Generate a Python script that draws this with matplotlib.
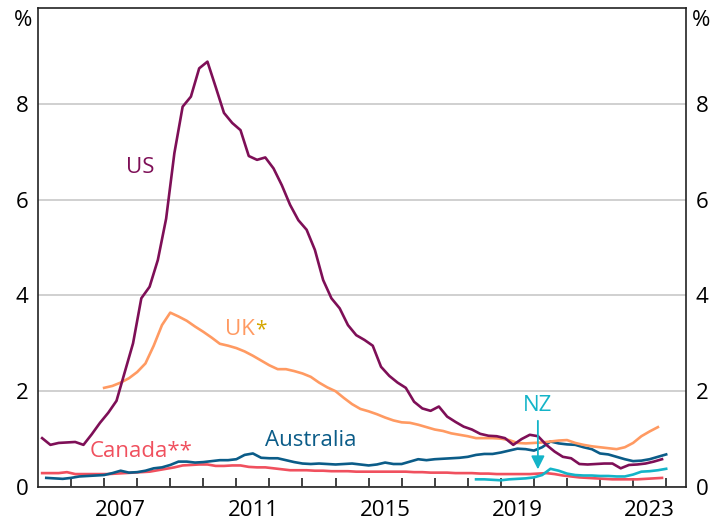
import numpy as np
import matplotlib
matplotlib.use("Agg")
import matplotlib.pyplot as plt

plt.rcParams['font.family'] = ['Open Sans', 'DejaVu Sans']

# quarterly dates (decimal years)
us_x = np.arange(2005.125, 2024.0, 0.25)
canada_x = np.arange(2005.125, 2024.0, 0.25)
aus_x = np.arange(2005.25, 2024.01, 0.25)
uk_x = np.arange(2007.0, 2023.76, 0.25)
nz_x = np.arange(2018.25, 2024.01, 0.25)

us = [1.02, 0.88, 0.92, 0.93,
      0.94, 0.88, 1.10, 1.34,
      1.55, 1.80, 2.40, 3.00,
      3.94, 4.18, 4.74, 5.60,
      6.97, 7.94, 8.15, 8.74,
      8.88, 8.35, 7.81, 7.60,
      7.45, 6.91, 6.83, 6.88,
      6.65, 6.30, 5.89, 5.57,
      5.37, 4.95, 4.32, 3.94,
      3.73, 3.38, 3.17, 3.07,
      2.95, 2.51, 2.32, 2.18,
      2.07, 1.78, 1.64, 1.59,
      1.68, 1.47, 1.36, 1.26,
      1.20, 1.11, 1.07, 1.06,
      1.02, 0.88, 1.00, 1.09,
      1.06, 0.88, 0.74, 0.63,
      0.60, 0.48, 0.47, 0.48,
      0.49, 0.49, 0.39, 0.46,
      0.47, 0.49, 0.53, 0.58]

uk = [2.07, 2.11, 2.18, 2.27,
      2.40, 2.58, 2.95, 3.38,
      3.64, 3.56, 3.47, 3.35,
      3.24, 3.12, 2.99, 2.95,
      2.90, 2.83, 2.74, 2.64,
      2.54, 2.46, 2.46, 2.42,
      2.37, 2.30, 2.18, 2.08,
      2.00, 1.86, 1.73, 1.63,
      1.58, 1.52, 1.45, 1.39,
      1.35, 1.34, 1.30, 1.25,
      1.20, 1.17, 1.12, 1.09,
      1.06, 1.02, 1.02, 1.02,
      1.01, 0.98, 0.92, 0.91,
      0.92, 0.93, 0.95, 0.97,
      0.98, 0.92, 0.88, 0.85,
      0.83, 0.81, 0.79, 0.83,
      0.92, 1.06, 1.16, 1.25]

australia = [0.19, 0.18, 0.17,
             0.19, 0.22, 0.23, 0.24,
             0.25, 0.29, 0.34, 0.30,
             0.31, 0.34, 0.39, 0.41,
             0.46, 0.53, 0.53, 0.51,
             0.52, 0.54, 0.56, 0.56,
             0.58, 0.67, 0.70, 0.61,
             0.60, 0.60, 0.56, 0.52,
             0.49, 0.48, 0.49, 0.48,
             0.47, 0.48, 0.49, 0.47,
             0.45, 0.47, 0.51, 0.48,
             0.48, 0.53, 0.58, 0.56,
             0.58, 0.59, 0.60, 0.61,
             0.63, 0.67, 0.69, 0.69,
             0.72, 0.76, 0.80, 0.79,
             0.76, 0.83, 0.95, 0.91,
             0.89, 0.88, 0.83, 0.79,
             0.70, 0.68, 0.63, 0.58,
             0.54, 0.55, 0.58, 0.63,
             0.68]

canada = [0.29, 0.29, 0.29, 0.31,
          0.27, 0.27, 0.27, 0.27,
          0.27, 0.28, 0.29, 0.30,
          0.31, 0.32, 0.35, 0.38,
          0.41, 0.45, 0.46, 0.47,
          0.47, 0.44, 0.44, 0.45,
          0.45, 0.42, 0.41, 0.41,
          0.39, 0.37, 0.35, 0.35,
          0.35, 0.34, 0.34, 0.33,
          0.33, 0.33, 0.32, 0.32,
          0.32, 0.32, 0.32, 0.32,
          0.32, 0.31, 0.31, 0.30,
          0.30, 0.30, 0.29, 0.29,
          0.29, 0.28, 0.28, 0.27,
          0.27, 0.27, 0.27, 0.27,
          0.28, 0.29, 0.27, 0.24,
          0.22, 0.20, 0.19, 0.18,
          0.17, 0.16, 0.16, 0.16,
          0.16, 0.17, 0.18, 0.19]

nz = [0.16, 0.16, 0.15,
      0.14, 0.16, 0.17, 0.18,
      0.20, 0.25, 0.38, 0.34,
      0.28, 0.25, 0.24, 0.24,
      0.23, 0.23, 0.22, 0.22,
      0.26, 0.32, 0.33, 0.35,
      0.38]

year_labels = [2007, 2011, 2015, 2019, 2023]

c_us = '#7E0F57'
c_uk = '#FF9A62'
c_uk_star = '#D4A600'
c_can = '#F0505E'
c_aus = '#0B5C88'
c_nz = '#14B4C8'

fig = plt.figure(figsize=(7.1, 5.25), dpi=100)
ax = fig.add_axes([38 / 710, 38 / 525, 648 / 710, 479 / 525])

lw = 1.9
ax.plot(canada_x, canada, color=c_can, lw=lw)
ax.plot(aus_x, australia, color=c_aus, lw=lw)
ax.plot(nz_x, nz, color=c_nz, lw=lw)
ax.plot(uk_x, uk, color=c_uk, lw=lw)
ax.plot(us_x, us, color=c_us, lw=lw)

ax.set_xlim(2005, 2024.6)
ax.set_ylim(0, 10)

ax.set_yticks([0, 2, 4, 6, 8])
ax.yaxis.grid(True, color='#C4C4C4', lw=1.1)
ax.set_axisbelow(True)
ax.tick_params(axis='y', length=0, labelsize=16, labelright=True, pad=7)

ax.set_xticks(np.arange(2006, 2025, 1))
ax.set_xticklabels([])
ax.set_xticks([y + 0.5 for y in year_labels], minor=True)
ax.set_xticklabels([str(y) for y in year_labels], minor=True)
ax.tick_params(axis='x', which='major', direction='in', length=6.5, width=1.2, color='#222222')
ax.tick_params(axis='x', which='minor', length=0, labelsize=16, pad=9)

for s in ax.spines.values():
    s.set_color('#222222')
    s.set_linewidth(1.2)

fig.text(32 / 710, 1 - 20 / 525, '%', ha='right', va='center', fontsize=16)
fig.text(692 / 710, 1 - 20 / 525, '%', ha='left', va='center', fontsize=16)

ax.text(2008.1, 6.68, 'US', color=c_us, fontsize=16, ha='center', va='center')
t_uk = ax.text(2010.67, 3.28, 'UK', color=c_uk, fontsize=16, ha='left', va='center')
ax.annotate('*', xy=(1, 1), xycoords=t_uk, color=c_uk_star, fontsize=15,
            ha='left', va='top')
ax.text(2006.57, 0.74, 'Canada**', color=c_can, fontsize=16, ha='left', va='center')
ax.text(2011.88, 0.98, 'Australia', color=c_aus, fontsize=16, ha='left', va='center')
ax.text(2020.12, 1.71, 'NZ', color=c_nz, fontsize=16, ha='center', va='center')
ax.annotate('', xy=(2020.12, 0.31), xytext=(2020.12, 1.44),
            arrowprops=dict(arrowstyle='-|>', color=c_nz, lw=1.3, mutation_scale=20))

fig.savefig('out.png', dpi=100)
